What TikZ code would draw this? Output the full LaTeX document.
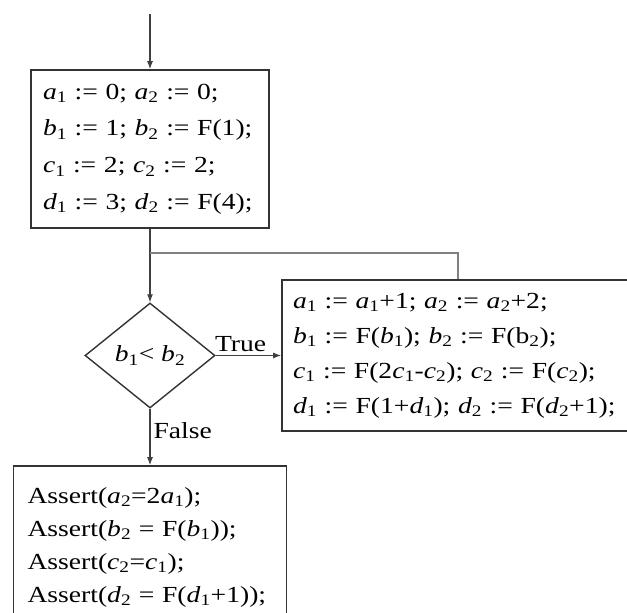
\documentclass[tikz,border=0pt]{standalone}
\usepackage{fontspec}
\setmainfont{Liberation Serif}[FakeStretch=1.2]
\usetikzlibrary{shapes.geometric,arrows.meta}
\newcommand\vv[2]{\textit{#1}\textsubscript{#2}}
\begin{document}
\begin{tikzpicture}[x=1pt,y=-1pt,
  boxnode/.style={draw=black!80,line width=1.6pt,align=left,anchor=center,inner ysep=0pt},
  conn/.style={draw=black!75,line width=1.1pt},
  arr/.style={conn,-{Latex[length=8pt,width=6pt]}},
  loopline/.style={draw=black!50,line width=1.4pt},
  lbl/.style={font=\fontsize{23}{28}\selectfont,inner sep=3pt}]
\useasboundingbox (0,0) rectangle (627,613);
\node[boxnode,minimum width=238pt,minimum height=158pt,inner xsep=12pt,text width=214pt,
  font=\fontsize{23}{36.7}\selectfont] (box1) at (150,149)
  {\vv{a}{1} := 0; \vv{a}{2} := 0;\\
   \vv{b}{1} := 1; \vv{b}{2} := F(1);\\
   \vv{c}{1} := 2; \vv{c}{2} := 2;\\
   \vv{d}{1} := 3; \vv{d}{2} := F(4);};
\node[diamond,draw=black!80,line width=1.4pt,minimum width=130pt,minimum height=105pt,inner sep=0pt,
  font=\fontsize{23}{28}\selectfont] (dia) at (150,355.5) {\vv{b}{1}< \vv{b}{2}};
\node[boxnode,minimum width=360pt,minimum height=151pt,inner xsep=11pt,text width=338pt,
  font=\fontsize{23}{35}\selectfont] (box2) at (462,355.5)
  {\vv{a}{1} := \vv{a}{1}+1; \vv{a}{2} := \vv{a}{2}+2;\\
   \vv{b}{1} := F(\vv{b}{1}); \vv{b}{2} := F(b\textsubscript{2});\\
   \vv{c}{1} := F(2\vv{c}{1}-\vv{c}{2}); \vv{c}{2} := F(\vv{c}{2});\\
   \vv{d}{1} := F(1+\vv{d}{1}); \vv{d}{2} := F(\vv{d}{2}+1);};
\node[boxnode,minimum width=273pt,minimum height=162pt,inner xsep=14pt,text width=245pt,
  font=\fontsize{23}{33}\selectfont] (box3) at (150,547)
  {Assert(\vv{a}{2}=2\vv{a}{1});\\
   Assert(\vv{b}{2} = F(\vv{b}{1}));\\
   Assert(\vv{c}{2}=\vv{c}{1});\\
   Assert(\vv{d}{2} = F(\vv{d}{1}+1));};
\coordinate (top) at (150,14);
\coordinate (j) at (150,253);
\coordinate (lp) at (458,253);
\draw[arr] (top) -- (box1.north);
\draw[arr] (box1.south) -- (dia.north);
\draw[loopline] (lp |- box2.north) -- (lp) -- (j);
\draw[arr] (dia.east) -- (box2.west) node[lbl,pos=0.38,anchor=south] (tl) {True};
\draw[arr] (dia.south) -- (box3.north) node[lbl,pos=0.38,anchor=west] (fl) {False};
\end{tikzpicture}
\end{document}
